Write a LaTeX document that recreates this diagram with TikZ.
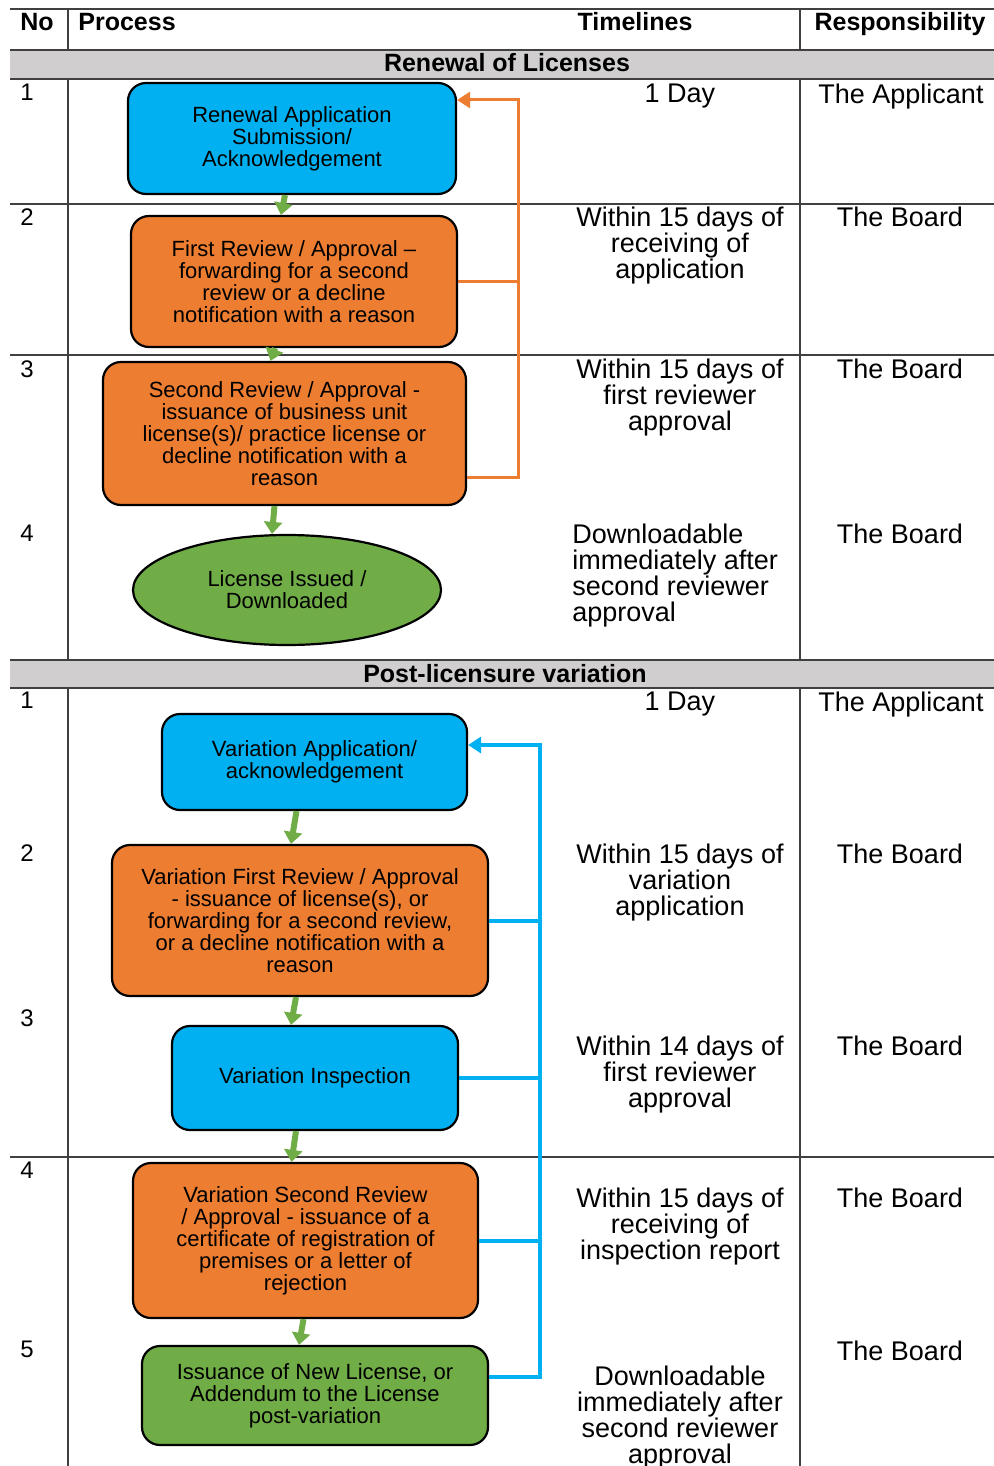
\documentclass[tikz,border=0pt]{standalone}
\usepackage{fontspec}
\setmainfont{Liberation Sans}
\usetikzlibrary{
	positioning,
	arrows.meta,
	shapes.geometric
}

\definecolor{boxblue}{HTML}{00B0F0}
\definecolor{boxorange}{HTML}{ED7D31}
\definecolor{boxgreen}{HTML}{70AD47}
\definecolor{bandgray}{HTML}{D0CECE}
\definecolor{rulegray}{HTML}{404040}

\begin{document}
\begin{tikzpicture}[
			x=0.5pt,y=-0.5pt,
			box/.style={
				draw,
				line width=1.1pt,
				rounded corners=9pt,
				inner sep=2pt,
				align=center,
				font=\fontsize{11}{11}\selectfont
			},
			oval/.style={
				draw,
				ellipse,
				line width=1.1pt,
				inner sep=0pt,
				align=center,
				font=\fontsize{11}{11}\selectfont
			},
			cell/.style={anchor=north,inner sep=0pt,align=center,font=\fontsize{13.5}{13}\selectfont},
			num/.style={anchor=north,inner sep=0pt,font=\fontsize{12}{12}\selectfont},
			head/.style={anchor=base,inner sep=0pt,font=\bfseries\fontsize{12.5}{13}\selectfont},
			rule/.style={draw=rulegray,line width=0.9pt},
			flow/.style={-{Triangle[length=6pt,width=9pt]},draw=boxgreen,line width=3pt},
			loopren/.style={draw=boxorange,line width=1.5pt},
			looppost/.style={draw=boxblue,line width=2pt},
			back/.style={-{Triangle[length=6.5pt,width=8pt]}}
			]
			
			\useasboundingbox (0,0) rectangle (994,1466);
			
			% table
			\fill[bandgray] (10,50) rectangle (994,79);
			\fill[bandgray] (10,660) rectangle (994,688);
			\draw[rule] (10,9) -- (994,9);
			\draw[rule] (10,50) -- (994,50);
			\draw[rule] (10,79) -- (994,79);
			\draw[rule] (10,204) -- (994,204);
			\draw[rule] (10,355) -- (994,355);
			\draw[rule] (10,660) -- (994,660);
			\draw[rule] (10,688) -- (994,688);
			\draw[rule] (10,1157) -- (994,1157);
			\draw[rule] (68,9) -- (68,50);
			\draw[rule] (68,79) -- (68,660);
			\draw[rule] (68,688) -- (68,1466);
			\draw[rule] (800,9) -- (800,50);
			\draw[rule] (800,79) -- (800,660);
			\draw[rule] (800,688) -- (800,1466);
			
			\node[head,anchor=base west] (hno) at (20,31) {No};
			\node[head,anchor=base west] (hprocess) at (78,31) {Process};
			\node[head] (htime) at (635,31) {Timelines};
			\node[head] (hresp) at (900,31) {Responsibility};
			\node[head] (bandren) at (507,72) {Renewal of Licenses};
			\node[head] (bandpost) at (505,682) {Post-licensure variation};
			
			% renewal of licenses
			\node[num] (renN1) at (27,84) {1};
			\node[num] (renN2) at (27,208) {2};
			\node[num] (renN3) at (27,360) {3};
			\node[num] (renN4) at (27,525) {4};
			
			\node[box,fill=boxblue,minimum width=164pt,minimum height=55.5pt] (ren1) at (292,138.5)
			{Renewal Application\\Submission/\\Acknowledgement};
			
			\node[box,fill=boxorange,minimum width=163pt,minimum height=65.5pt] (ren2) at (294,281.5)
			{First Review / Approval –\\forwarding for a second\\review or a decline\\notification with a reason};
			
			\node[box,fill=boxorange,minimum width=181.5pt,minimum height=71.5pt] (ren3) at (284.5,433.5)
			{Second Review / Approval -\\issuance of business unit\\license(s)/ practice license or\\decline notification with a\\reason};
			
			\node[oval,fill=boxgreen,minimum width=154pt,minimum height=55pt] (ren4) at (287,590)
			{License Issued /\\Downloaded};
			
			\node[cell] (renT1) at (680,84) {1 Day};
			\node[cell] (renT2) at (680,207) {Within 15 days of\\receiving of\\application};
			\node[cell] (renT3) at (680,359) {Within 15 days of\\first reviewer\\approval};
			\node[cell,anchor=north west,align=left] (renT4) at (572,524)
			{Downloadable\\immediately after\\second reviewer\\approval};
			
			\node[cell] (renR1) at (901,84) {The Applicant};
			\node[cell] (renR2) at (900,207) {The Board};
			\node[cell] (renR3) at (900,359) {The Board};
			\node[cell] (renR4) at (900,524) {The Board};
			
			\draw[flow] ([xshift=-3.5pt]ren1.south)--([xshift=-6.5pt]ren2.north);
			\draw[flow] ([xshift=-9.5pt]ren2.south)--([xshift=-7pt]ren3.north);
			\draw[flow] ([xshift=-5pt]ren3.south)--([xshift=-7.5pt]ren4.north);
			
			\coordinate (backren) at (518,100);
			\draw[loopren,back] ([yshift=-22pt]ren3.east) -| (backren) -- (ren1.east |- backren);
			\draw[loopren] (ren2.east) -- (ren2.east -| backren);
			
			% post-licensure variation
			\node[num] (pstN1) at (27,692) {1};
			\node[num] (pstN2) at (27,844) {2};
			\node[num] (pstN3) at (27,1009) {3};
			\node[num] (pstN4) at (27,1162) {4};
			\node[num] (pstN5) at (27,1341) {5};
			
			\node[box,fill=boxblue,minimum width=152.5pt,minimum height=48pt] (pst1) at (314.5,762)
			{Variation Application/\\acknowledgement};
			
			\node[box,fill=boxorange,minimum width=188pt,minimum height=75.5pt] (pst2) at (300,920.5)
			{Variation First Review / Approval\\- issuance of license(s), or\\forwarding for a second review,\\or a decline notification with a\\reason};
			
			\node[box,fill=boxblue,minimum width=143pt,minimum height=52pt] (pst3) at (315,1078)
			{Variation Inspection};
			
			\node[box,fill=boxorange,minimum width=172.5pt,minimum height=77.5pt] (pst4) at (305.5,1240.5)
			{Variation Second Review\\/ Approval - issuance of a\\certificate of registration of\\premises or a letter of\\rejection};
			
			\node[box,fill=boxgreen,minimum width=173pt,minimum height=49.5pt] (pst5) at (315,1395.5)
			{Issuance of New License, or\\Addendum to the License\\post-variation};
			
			\node[cell] (pstT1) at (680,692) {1 Day};
			\node[cell] (pstT2) at (680,844) {Within 15 days of\\variation\\application};
			\node[cell] (pstT3) at (680,1036) {Within 14 days of\\first reviewer\\approval};
			\node[cell] (pstT4) at (680,1188) {Within 15 days of\\receiving of\\inspection report};
			\node[cell] (pstT5) at (680,1366) {Downloadable\\immediately after\\second reviewer\\approval};
			
			\node[cell] (pstR1) at (901,692) {The Applicant};
			\node[cell] (pstR2) at (900,844) {The Board};
			\node[cell] (pstR3) at (900,1036) {The Board};
			\node[cell] (pstR4) at (900,1188) {The Board};
			\node[cell] (pstR5) at (900,1341) {The Board};
			
			\draw[flow] ([xshift=-9pt]pst1.south)--([xshift=-4.5pt]pst2.north);
			\draw[flow] ([xshift=-2pt]pst2.south)--([xshift=-12pt]pst3.north);
			\draw[flow] ([xshift=-9.5pt]pst3.south)--([xshift=-7pt]pst4.north);
			\draw[flow] ([xshift=-1pt]pst4.south)--([xshift=-8pt]pst5.north);
			
			\coordinate (backpost) at (540,745);
			\draw[looppost,back] ([yshift=9.5pt]pst5.east) -| (backpost) -- (pst1.east |- backpost);
			\draw[looppost] (pst2.east) -- (pst2.east -| backpost);
			\draw[looppost] (pst3.east) -- (pst3.east -| backpost);
			\draw[looppost] (pst4.east) -- (pst4.east -| backpost);
			
		\end{tikzpicture}
\end{document}
